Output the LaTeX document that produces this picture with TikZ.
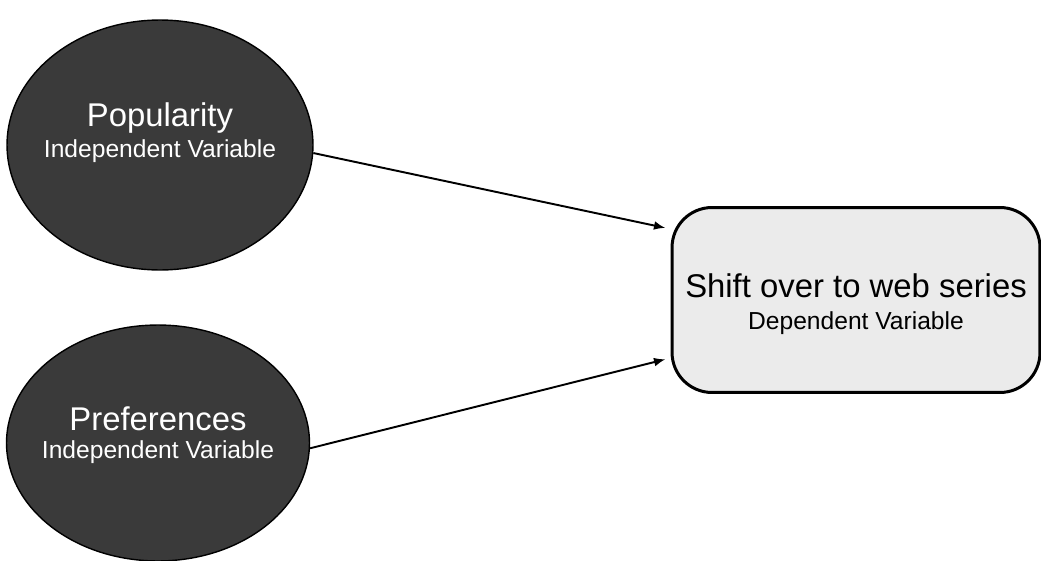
\documentclass[tikz,border=0pt]{standalone}
\usepackage{fontspec}
\setmainfont{Liberation Sans}
\usetikzlibrary{shapes.geometric, positioning, arrows.meta}
\definecolor{ovalgray}{HTML}{3A3A3A}
\definecolor{boxgray}{HTML}{EBEBEB}
\newcommand{\mainsize}{\fontsize{18.7}{22}\selectfont}
\newcommand{\subsize}{\fontsize{14}{17}\selectfont}
\tikzset{
>={Latex[length=6.5pt, width=5pt]}, % filled arrow heads
indepvar/.style={ellipse, draw=black, line width=0.8pt, fill=ovalgray, inner sep=0pt,
  minimum width=6.12cm, minimum height=5cm}, % the two causes
vartext/.style={text=white, align=center, inner sep=0pt}, % text inside the ovals
depbox/.style={rounded corners=0.8cm, draw=black, line width=1.7pt, fill=boxgray,
  minimum width=7.36cm, minimum height=3.7cm}, % the effect
linkarrow/.style={->, line width=1.1pt, shorten >=3pt}, % the arrows
}

\begin{document}
\begin{tikzpicture}[x=0.02cm, y=-0.02cm]
  \useasboundingbox (0,0) rectangle (1041,561);
  % Variables
  \node[indepvar, label={[vartext, yshift=0.25cm]center:{\mainsize Popularity}\\[3pt]{\subsize Independent Variable}}]
    (pop) at (160,145) {};
  \node[indepvar, minimum width=6.06cm, minimum height=4.72cm,
    label={[vartext, yshift=0.15cm]center:{\mainsize Preferences}\\[4pt]{\subsize Independent Variable}}]
    (pref) at (158,443) {};
  \node[depbox, label={[align=center, inner sep=0pt, yshift=-0.08cm]center:{\mainsize Shift over to web series}\\[6pt]{\subsize Dependent Variable}}]
    (shift) at (856,300) {};

  % Links
  \path[linkarrow]
    (pop.-3) edge ([yshift=1.42cm]shift.west)
    (pref.-2) edge ([yshift=-1.16cm]shift.west);
\end{tikzpicture}
\end{document}
